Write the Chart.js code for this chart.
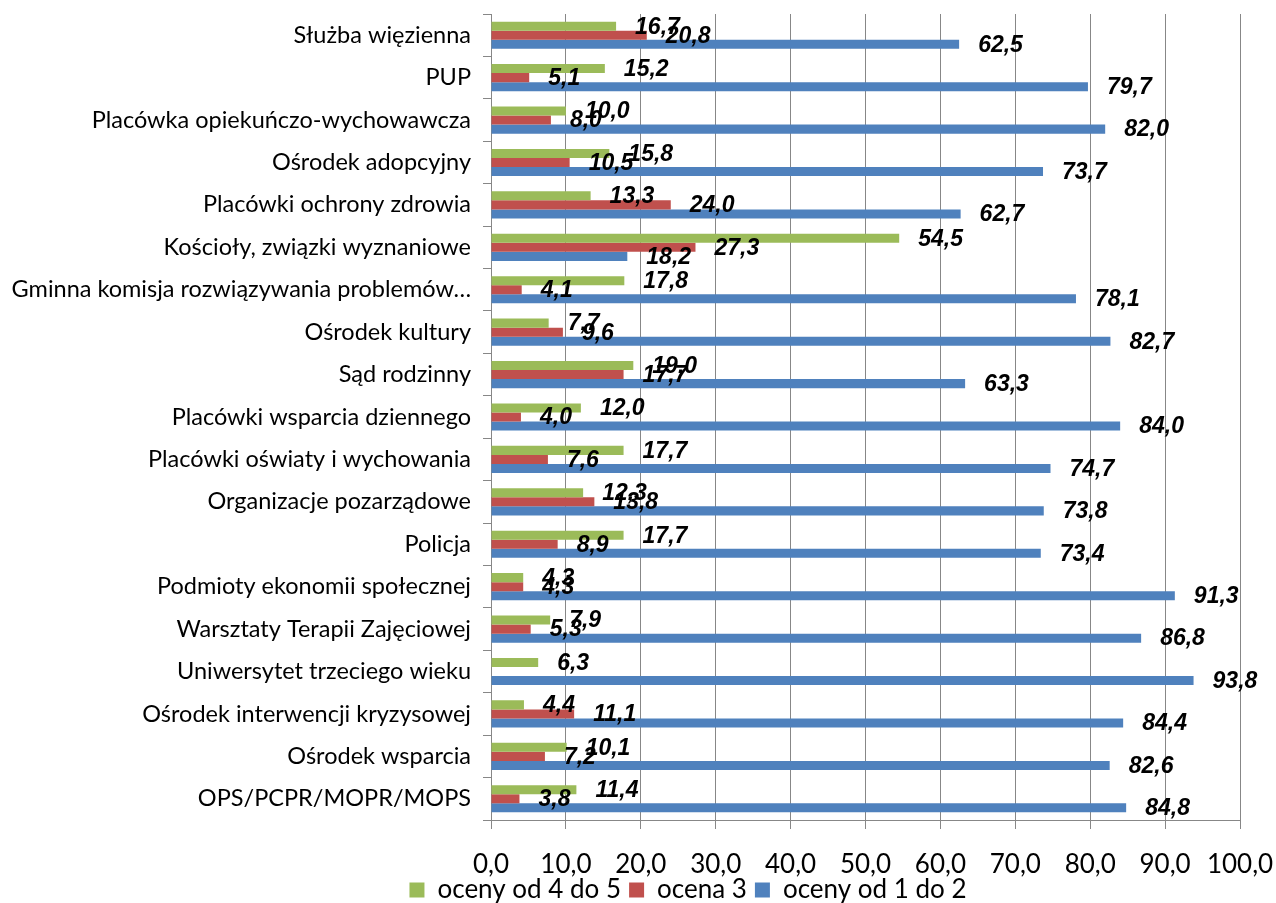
<!DOCTYPE html>
<html lang="pl">
<head>
    <meta charset="utf-8"/>
    <title>Ocena współpracy z instytucjami</title>
    <script src="https://cdn.jsdelivr.net/npm/chart.js"></script>
    <style>
        body {
            margin: 0;
            background: #ffffff;
        }
        #wrap {
            width: 1276px;
            height: 903px;
        }
    </style>
</head>
<body>
<div id="wrap"><canvas id="chart" width="1276" height="903"></canvas></div>

<script>
    const categories = [
        'Służba więzienna',
        'PUP',
        'Placówka opiekuńczo-wychowawcza',
        'Ośrodek adopcyjny',
        'Placówki ochrony zdrowia',
        'Kościoły, związki wyznaniowe',
        'Gminna komisja rozwiązywania problemów…',
        'Ośrodek kultury',
        'Sąd rodzinny',
        'Placówki wsparcia dziennego',
        'Placówki oświaty i wychowania',
        'Organizacje pozarządowe',
        'Policja',
        'Podmioty ekonomii społecznej',
        'Warsztaty Terapii Zajęciowej',
        'Uniwersytet trzeciego wieku',
        'Ośrodek interwencji kryzysowej',
        'Ośrodek wsparcia',
        'OPS/PCPR/MOPR/MOPS'
    ];
    const oceny4do5 = [16.7, 15.2, 10.0, 15.8, 13.3, 54.5, 17.8, 7.7, 19.0, 12.0, 17.7, 12.3, 17.7, 4.3, 7.9, 6.3, 4.4, 10.1, 11.4];
    const ocena3    = [20.8, 5.1, 8.0, 10.5, 24.0, 27.3, 4.1, 9.6, 17.7, 4.0, 7.6, 13.8, 8.9, 4.3, 5.3, 0, 11.1, 7.2, 3.8];
    const oceny1do2 = [62.5, 79.7, 82.0, 73.7, 62.7, 18.2, 78.1, 82.7, 63.3, 84.0, 74.7, 73.8, 73.4, 91.3, 86.8, 93.8, 84.4, 82.6, 84.8];
    const seriesNames = ['oceny od 4 do 5', 'ocena 3', 'oceny od 1 do 2'];
    const xMin = 0, xMax = 100, xStep = 10;

    const fmt = v => v.toFixed(1).replace('.', ',');
    const gridColor = '#878787';
    const textFont = { family: 'Lato, "Noto Sans", sans-serif', size: 26, lineHeight: 1 };
    const catFont = { family: 'Lato, "Noto Sans", sans-serif', size: 23.5, lineHeight: 1 };

    // wartości przy końcach słupków
    const valueLabels = {
        id: 'valueLabels',
        afterDatasetsDraw(chart) {
            const ctx = chart.ctx;
            ctx.save();
            ctx.font = 'italic bold 23px "Liberation Sans", Arial, sans-serif';
            ctx.fillStyle = '#000000';
            ctx.textAlign = 'left';
            ctx.textBaseline = 'middle';
            chart.data.datasets.forEach((ds, i) => {
                chart.getDatasetMeta(i).data.forEach((bar, j) => {
                    const v = ds.data[j];
                    if (!v) return;
                    ctx.fillText(fmt(v), bar.x + 19, bar.y + 1);
                });
            });
            ctx.restore();
        }
    };

    // legenda przesunięta jak w oryginale, etykiety osi X nieobcięte
    const layoutTweaks = {
        id: 'layoutTweaks',
        afterLayout(chart) {
            const lg = chart.legend;
            lg.left += 68;
            lg.right += 68;
            lg.top += 10;
            lg.bottom += 10;
            chart.scales.x.bottom += 24;
        }
    };

    new Chart(document.getElementById('chart'), {
        type: 'bar',
        data: {
            labels: categories,
            datasets: [
                { label: seriesNames[0], data: oceny4do5, backgroundColor: '#9BBB59' },
                { label: seriesNames[1], data: ocena3, backgroundColor: '#C0504D' },
                { label: seriesNames[2], data: oceny1do2, backgroundColor: '#4F81BD' }
            ]
        },
        options: {
            indexAxis: 'y',
            responsive: false,
            animation: false,
            devicePixelRatio: 1,
            categoryPercentage: 0.64,
            barPercentage: 1.0,
            layout: { padding: { top: 14, right: 36, bottom: 0, left: 0 } },
            plugins: {
                legend: {
                    position: 'bottom',
                    labels: {
                        font: textFont,
                        color: '#000000',
                        boxWidth: 15,
                        boxHeight: 15,
                        padding: 8
                    }
                },
                tooltip: { enabled: false }
            },
            scales: {
                x: {
                    min: xMin,
                    max: xMax,
                    ticks: {
                        stepSize: xStep,
                        font: textFont,
                        color: '#000000',
                        padding: 23,
                        callback: v => fmt(v)
                    },
                    grid: { color: gridColor, tickLength: 9 },
                    border: { color: gridColor },
                    afterFit(scale) {
                        scale.height = 39;
                        scale.paddingLeft = 0;
                        scale.paddingRight = 0;
                    }
                },
                y: {
                    ticks: {
                        font: catFont,
                        color: '#000000',
                        padding: 12,
                        autoSkip: false
                    },
                    grid: { color: gridColor, drawOnChartArea: false, tickLength: 8 },
                    border: { color: gridColor },
                    afterFit(scale) {
                        scale.width = 491;
                        scale.paddingTop = 0;
                        scale.paddingBottom = 0;
                    }
                }
            }
        },
        plugins: [valueLabels, layoutTweaks]
    });
</script>
</body>
</html>
